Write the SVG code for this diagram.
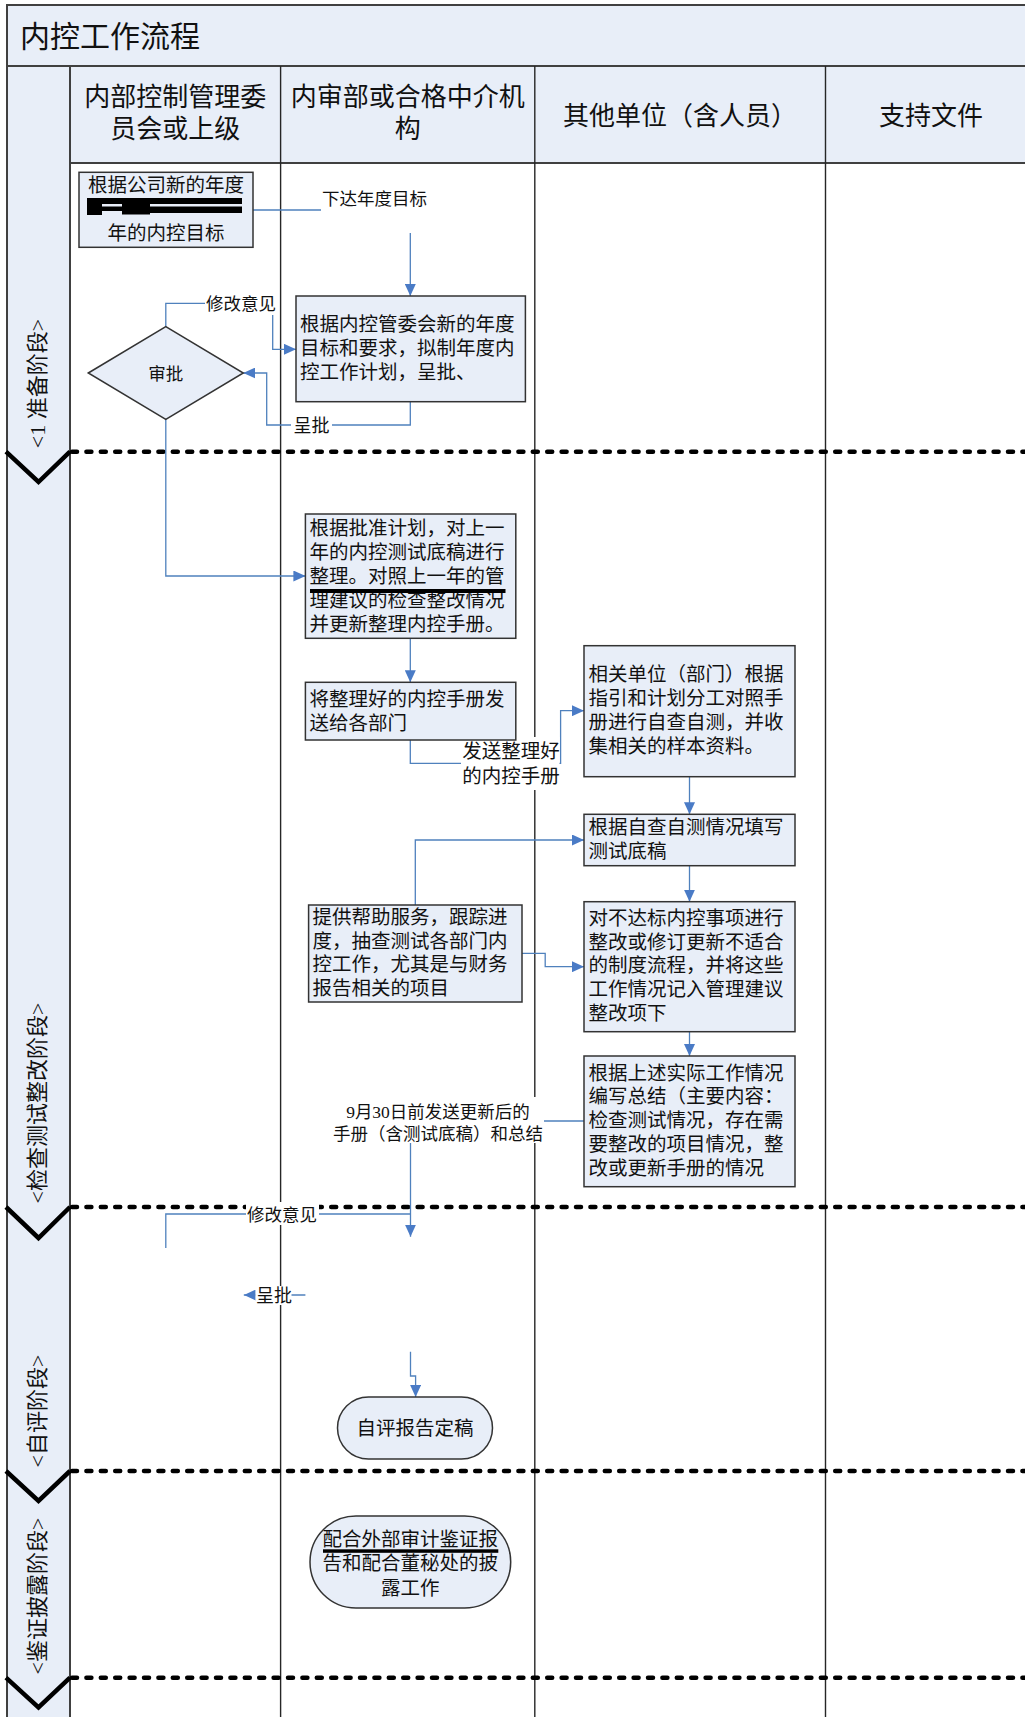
<svg xmlns="http://www.w3.org/2000/svg" width="1025" height="1717" viewBox="0 0 1025 1717">
<defs>
<style>
.band{fill:#E8EEF8;stroke:#404040;stroke-width:2}
.lane{stroke:#262626;stroke-width:1.4}
.phase{fill:none;stroke:#000;stroke-width:4.5;stroke-linecap:round;stroke-dasharray:5 9.4}
.chev{fill:none;stroke:#000;stroke-width:4.5}
.box{fill:#E8EEF8;stroke:#333;stroke-width:1.5}
.t{font-family:'Liberation Serif','Noto Sans CJK SC',serif;fill:#111}
.bt{font-size:19.5px}
.lb{font-size:17.5px}
.hd{font-size:26px}
.ph{font-size:22px}
.cn{fill:none;stroke:#4F81BD;stroke-width:1.3}
.ar{marker-end:url(#ah)}
.bg{fill:#fff}
.red{fill:#000}
</style>
<marker id="ah" markerUnits="userSpaceOnUse" markerWidth="12" markerHeight="11" refX="12" refY="5.5" orient="auto"><path d="M0,0 L12,5.5 L0,11 Z" fill="#4A7BC6"/></marker>
</defs>
<rect width="1025" height="1717" fill="#fff"/>
<g id="pool">
<rect class="band" x="7" y="5" width="1040" height="61"/>
<text class="t" x="20" y="47" font-size="30">内控工作流程</text>
<rect class="band" x="7" y="66" width="63" height="1700"/>
<rect class="band" x="70" y="66" width="980" height="97"/>
<line class="lane" x1="280.6" y1="66" x2="280.6" y2="1717"/>
<line class="lane" x1="534.8" y1="66" x2="534.8" y2="1717"/>
<line class="lane" x1="825.5" y1="66" x2="825.5" y2="1717"/>
</g>
<g id="lane-headers">
<text class="t hd" text-anchor="middle"><tspan x="175.3" y="105.5">内部控制管理委</tspan><tspan x="175.3" y="138">员会或上级</tspan></text>
<text class="t hd" text-anchor="middle"><tspan x="407.7" y="105.5">内审部或合格中介机</tspan><tspan x="407.7" y="138">构</tspan></text>
<text class="t hd" text-anchor="middle" x="680" y="125">其他单位（含人员）</text>
<text class="t hd" text-anchor="middle" x="931" y="125">支持文件</text>
</g>
<g id="phases">
<line class="phase" x1="72" y1="451.7" x2="1030" y2="451.7"/>
<line class="phase" x1="72" y1="1207" x2="1030" y2="1207"/>
<line class="phase" x1="72" y1="1471" x2="1030" y2="1471"/>
<line class="phase" x1="72" y1="1677.7" x2="1030" y2="1677.7"/>
<polyline class="chev" points="6,451.7 38.5,482 70,451.7"/>
<polyline class="chev" points="6,1207 38.5,1238 70,1207"/>
<polyline class="chev" points="6,1471 38.5,1501 70,1471"/>
<polyline class="chev" points="6,1677.7 38.5,1707.5 70,1677.7"/>
<text class="t ph" text-anchor="middle" transform="translate(45,383.5) rotate(-90)">&lt;1 准备阶段&gt;</text>
<text class="t ph" text-anchor="middle" transform="translate(45,1103) rotate(-90)">&lt;检查测试整改阶段&gt;</text>
<text class="t ph" text-anchor="middle" transform="translate(45,1411) rotate(-90)">&lt;自评阶段&gt;</text>
<text class="t ph" text-anchor="middle" transform="translate(45,1596) rotate(-90)">&lt;鉴证披露阶段&gt;</text>
</g>
<g id="connectors">
<path class="cn ar" d="M253,210 H410.3 V296"/>
<path class="cn ar" d="M165.8,326.7 V303.3 H272.7 V349.3 H296"/>
<path class="cn ar" d="M410.3,401.7 V425 H266.7 V373 H243.3"/>
<path class="cn ar" d="M165.8,419.3 V576 H305.4"/>
<path class="cn ar" d="M410.3,638.3 V682.3"/>
<path class="cn ar" d="M410.3,740 V763.3 H560.6 V710.7 H584"/>
<path class="cn ar" d="M689.5,776.7 V814.3"/>
<path class="cn ar" d="M689.5,865.7 V901.7"/>
<path class="cn ar" d="M689.5,1031.7 V1056"/>
<path class="cn ar" d="M415.3,905 V840 H584"/>
<path class="cn ar" d="M522,953.3 H545.2 V966.7 H584"/>
<path class="cn ar" d="M584,1121 H410.5 V1236.7"/>
<path class="cn" d="M410.5,1214 H165.8 V1248"/>
<path class="cn ar" d="M305.4,1295 H243.8"/>
<path class="cn ar" d="M410.5,1351.7 V1376 H415.6 V1397"/>
<rect class="bg" x="321" y="187" width="107" height="46"/>
<rect class="bg" x="205" y="292" width="72" height="23"/>
<rect class="bg" x="291" y="414" width="41" height="22"/>
<rect class="bg" x="461" y="737" width="98.5" height="53"/>
<rect class="bg" x="330" y="1097" width="214" height="46"/>
<rect class="bg" x="246" y="1202" width="73" height="23"/>
<rect class="bg" x="255.5" y="1286" width="36" height="19"/>
<text class="t lb" text-anchor="middle" x="374.5" y="204.7">下达年度目标</text>
<text class="t lb" text-anchor="middle" x="241" y="309.5">修改意见</text>
<text class="t" font-size="18" text-anchor="middle" x="311.5" y="431.5">呈批</text>
<text class="t bt" text-anchor="middle"><tspan x="511" y="757.7">发送整理好</tspan><tspan x="511" y="782.7">的内控手册</tspan></text>
<text class="t lb" text-anchor="middle"><tspan x="438" y="1117.5">9月30日前发送更新后的</tspan><tspan x="438" y="1139.5">手册（含测试底稿）和总结</tspan></text>
<text class="t lb" text-anchor="middle" x="282" y="1220.5">修改意见</text>
<text class="t" font-size="18" text-anchor="middle" x="274" y="1302">呈批</text>
</g>
<g id="n1">
<rect class="box" x="79" y="172.3" width="174" height="75"/>
<text class="t bt" text-anchor="middle"><tspan x="166" y="192">根据公司新的年度</tspan><tspan x="166" y="239.5">年的内控目标</tspan></text>
<rect class="red" x="87" y="198" width="155" height="6"/>
<rect class="red" x="87" y="206.5" width="155" height="4.5"/>
<rect class="red" x="87" y="204" width="15" height="11"/>
<rect class="red" x="122" y="204" width="28" height="10.5"/>
<rect class="red" x="150" y="211" width="92" height="2"/>
</g>
<g id="n2">
<polygon class="box" points="88.3,373 165.8,326.7 243.3,373 165.8,419.3"/>
<text class="t lb" text-anchor="middle" x="165.8" y="380">审批</text>
</g>
<g id="n3">
<rect class="box" x="296" y="296" width="229.4" height="105.7"/>
<text class="t bt"><tspan x="300" y="331">根据内控管委会新的年度</tspan><tspan x="300" y="355">目标和要求，拟制年度内</tspan><tspan x="300" y="379">控工作计划，呈批、</tspan></text>
</g>
<g id="n4">
<rect class="box" x="305.4" y="514" width="210.4" height="124.3"/>
<text class="t bt"><tspan x="309.5" y="534.5">根据批准计划，对上一</tspan><tspan x="309.5" y="558.7">年的内控测试底稿进行</tspan><tspan x="309.5" y="582.8">整理。对照上一年的管</tspan><tspan x="309.5" y="606.9">理建议的检查整改情况</tspan><tspan x="309.5" y="631">并更新整理内控手册。</tspan></text>
<rect class="red" x="310" y="589" width="195.5" height="4"/>
</g>
<g id="n5">
<rect class="box" x="305.4" y="682.3" width="210.4" height="57.7"/>
<text class="t bt"><tspan x="309.5" y="705.5">将整理好的内控手册发</tspan><tspan x="309.5" y="729.5">送给各部门</tspan></text>
</g>
<g id="n6">
<rect class="box" x="584" y="645.7" width="211" height="131"/>
<text class="t bt"><tspan x="588.5" y="681">相关单位（部门）根据</tspan><tspan x="588.5" y="704.9">指引和计划分工对照手</tspan><tspan x="588.5" y="728.8">册进行自查自测，并收</tspan><tspan x="588.5" y="752.7">集相关的样本资料。</tspan></text>
</g>
<g id="n7">
<rect class="box" x="584" y="814.3" width="211" height="51.4"/>
<text class="t bt"><tspan x="588.5" y="833.5">根据自查自测情况填写</tspan><tspan x="588.5" y="857.7">测试底稿</tspan></text>
</g>
<g id="n8">
<rect class="box" x="584" y="901.7" width="211" height="130"/>
<text class="t bt"><tspan x="588.5" y="925.3">对不达标内控事项进行</tspan><tspan x="588.5" y="948.8">整改或修订更新不适合</tspan><tspan x="588.5" y="972.3">的制度流程，并将这些</tspan><tspan x="588.5" y="995.8">工作情况记入管理建议</tspan><tspan x="588.5" y="1019.5">整改项下</tspan></text>
</g>
<g id="n9">
<rect class="box" x="584" y="1056" width="211" height="130.7"/>
<text class="t bt"><tspan x="588.5" y="1079.5">根据上述实际工作情况</tspan><tspan x="588.5" y="1103.3">编写总结（主要内容：</tspan><tspan x="588.5" y="1127">检查测试情况，存在需</tspan><tspan x="588.5" y="1150.7">要整改的项目情况，整</tspan><tspan x="588.5" y="1174.5">改或更新手册的情况</tspan></text>
</g>
<g id="n10">
<rect class="box" x="308.6" y="905" width="213.4" height="97"/>
<text class="t bt"><tspan x="312.5" y="923.5">提供帮助服务，跟踪进</tspan><tspan x="312.5" y="947.7">度，抽查测试各部门内</tspan><tspan x="312.5" y="971.2">控工作，尤其是与财务</tspan><tspan x="312.5" y="995.4">报告相关的项目</tspan></text>
</g>
<g id="n11">
<rect class="box" x="337.5" y="1397" width="155" height="62" rx="31" ry="31"/>
<text class="t bt" text-anchor="middle" x="415" y="1435">自评报告定稿</text>
</g>
<g id="n12">
<rect class="box" x="310" y="1516" width="200.7" height="92" rx="46" ry="46"/>
<text class="t bt" text-anchor="middle"><tspan x="410.3" y="1546">配合外部审计鉴证报</tspan><tspan x="410.3" y="1570.3">告和配合董秘处的披</tspan><tspan x="410.3" y="1594.5">露工作</tspan></text>
<rect class="red" x="323" y="1549.3" width="175.3" height="3.5"/>
</g>
</svg>
